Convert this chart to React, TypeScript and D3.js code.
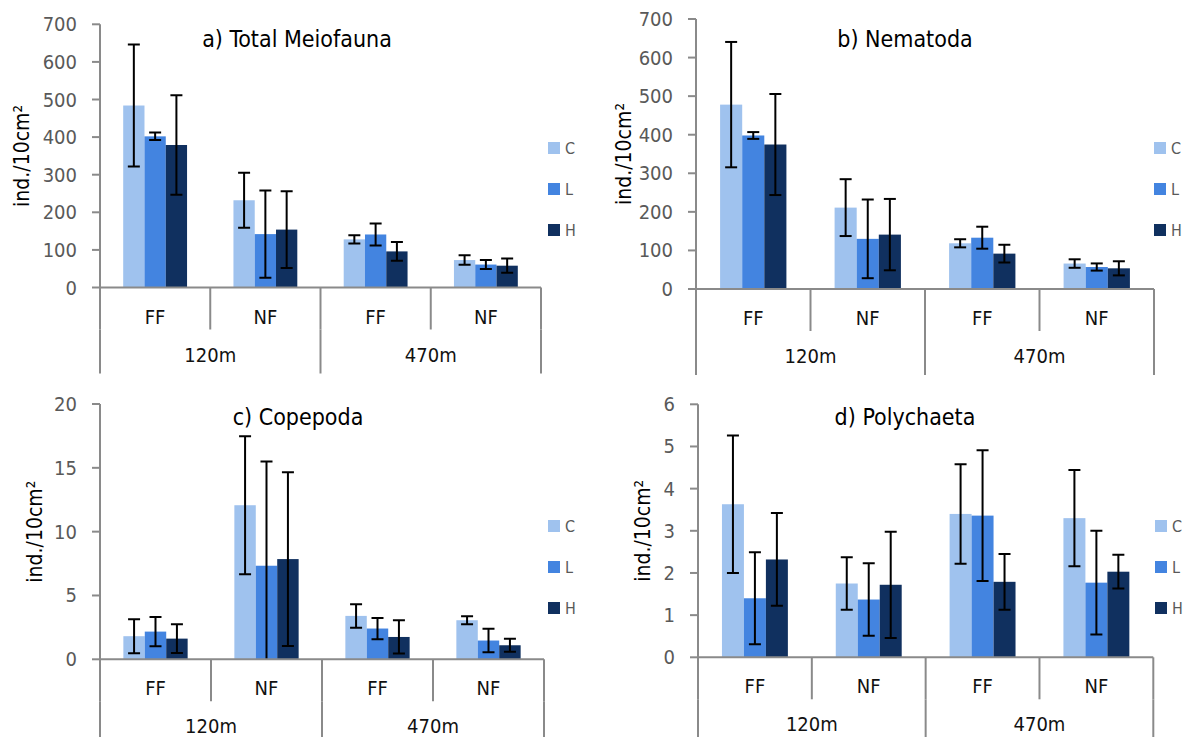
import React from "react";
import * as d3 from "d3";

const width = 1183;
const height = 737;
const font = "'DejaVu Sans Condensed', 'Liberation Sans Narrow', 'Roboto Condensed', sans-serif";

// categories
const depths = ["120m", "470m"];
const sites = ["FF", "NF"];
const groups = ["120m FF", "120m NF", "470m FF", "470m NF"];
const treatments = ["C", "L", "H"];
const colors = ["#9fc2ee", "#4384e0", "#10305f"];

// means [C, L, H] x groups, and standard deviations (error bars)
const meioMean = [[484, 232, 128, 73], [402, 142, 141, 61], [379, 154, 96, 58]];
const meioSd = [[162, 73, 11, 12.5], [10, 116, 29, 12], [132, 102, 25, 19]];

const nemaMean = [[478, 211, 118.5, 66], [398, 130, 133, 57], [374.6, 141, 91.7, 53.6]];
const nemaSd = [[162.5, 73.7, 10.5, 11], [8.8, 102, 28.5, 9.3], [131, 92.5, 23, 18.3]];

const copeMean = [[1.81, 12.07, 3.4, 3.06], [2.17, 7.33, 2.41, 1.47], [1.62, 7.85, 1.75, 1.1]];
const copeSd = [[1.33, 5.4, 0.92, 0.32], [1.14, 8.17, 0.83, 0.92], [1.12, 6.8, 1.3, 0.51]];

const polyMean = [[3.63, 1.75, 3.4, 3.3], [1.4, 1.37, 3.36, 1.77], [2.32, 1.72, 1.79, 2.03]];
const polySd = [[1.63, 0.62, 1.18, 1.14], [1.09, 0.86, 1.55, 1.23], [1.1, 1.26, 0.66, 0.4]];

const yTicksA = [0, 100, 200, 300, 400, 500, 600, 700];
const yTicksC = [0, 5, 10, 15, 20];
const yTicksD = [0, 1, 2, 3, 4, 5, 6];

function Panel({ id, title, mean, sd, ticks, x0, x1, y0, y1, titleX, titleY, yLabelX, legendX, legendY }) {
  const y = d3.scaleLinear().domain([0, ticks[ticks.length - 1]]).range([y0, y1]);
  const xg = d3.scaleBand().domain(groups).range([x0, x1]).padding(0);
  const xs = d3.scaleBand().domain(treatments).range([0, xg.bandwidth()]).paddingInner(0).paddingOuter(1.09);
  const axisColor = "#8a8a8a";
  const catH = 42;
  const bounds = d3.range(groups.length + 1).map((i) => x0 + i * xg.step());

  return (
    <g fontFamily={font}>
      <clipPath id={"clip-" + id}>
        <rect x={x0} y={y1 - 2} width={x1 - x0} height={y0 - y1 + 2} />
      </clipPath>
      {/* bars */}
      {treatments.map((t, ti) =>
        groups.map((g, gi) => (
          <rect key={t + g} x={xg(g) + xs(t)} y={y(mean[ti][gi])} width={xs.bandwidth()}
            height={y0 - y(mean[ti][gi])} fill={colors[ti]} />
        ))
      )}
      {/* error bars */}
      <g clipPath={"url(#clip-" + id + ")"} stroke="#000" strokeWidth={2}>
        {treatments.map((t, ti) =>
          groups.map((g, gi) => {
            const cx = xg(g) + xs(t) + xs.bandwidth() / 2;
            const hi = y(mean[ti][gi] + sd[ti][gi]);
            const lo = y(mean[ti][gi] - sd[ti][gi]);
            return (
              <g key={t + g}>
                <line x1={cx} x2={cx} y1={hi} y2={lo} />
                <line x1={cx - 6} x2={cx + 6} y1={hi} y2={hi} />
                <line x1={cx - 6} x2={cx + 6} y1={lo} y2={lo} />
              </g>
            );
          })
        )}
      </g>
      {/* y axis */}
      <line x1={x0} x2={x0} y1={y1} y2={y0} stroke={axisColor} strokeWidth={2} />
      {ticks.map((v) => (
        <g key={v}>
          <line x1={x0 - 8} x2={x0} y1={y(v)} y2={y(v)} stroke={axisColor} strokeWidth={2} />
          <text x={x0 - 23} y={y(v)} dy="0.35em" textAnchor="end" fontSize={20} fill="#595959">{v}</text>
        </g>
      ))}
      {/* category axis */}
      <line x1={x0} x2={x1} y1={y0} y2={y0} stroke={axisColor} strokeWidth={2} />
      {bounds.map((bx, i) => (
        <line key={"b" + i} x1={bx} x2={bx} y1={y0} y2={y0 + catH} stroke={axisColor} strokeWidth={2} />
      ))}
      {[0, 2, 4].map((i) => (
        <line key={"d" + i} x1={bounds[i]} x2={bounds[i]} y1={y0 + catH} y2={y0 + 2 * catH + 2} stroke={axisColor} strokeWidth={2} />
      ))}
      {groups.map((g, gi) => (
        <text key={g} x={xg(g) + xg.bandwidth() / 2} y={y0 + 36} textAnchor="middle" fontSize={20} fill="#111">
          {sites[gi % 2]}
        </text>
      ))}
      {depths.map((d, di) => (
        <text key={d} x={(bounds[di * 2] + bounds[di * 2 + 2]) / 2} y={y0 + 74} textAnchor="middle" fontSize={20} fill="#111">
          {d}
        </text>
      ))}
      {/* title + y label */}
      <text x={titleX} y={titleY} textAnchor="middle" fontSize={23} fill="#000">{title}</text>
      <text transform={`translate(${yLabelX},${(y0 + y1) / 2}) rotate(-90)`} textAnchor="middle" dy="0.35em" fontSize={21} fill="#000">
        ind./10cm²
      </text>
      {/* legend */}
      {treatments.map((t, ti) => (
        <g key={t} transform={`translate(${legendX},${legendY + ti * 41})`}>
          <rect x={0} y={-6} width={12} height={12} fill={colors[ti]} />
          <text x={17} y={0} dy="0.35em" fontSize={16} fill="#595959">{t}</text>
        </g>
      ))}
    </g>
  );
}

export default function App() {
  return (
    <svg width={width} height={height} style={{ position: "absolute", left: 0, top: 0, background: "#fff" }}>
      <Panel id="a" title="a) Total Meiofauna" mean={meioMean} sd={meioSd} ticks={yTicksA}
        x0={100} x1={541} y0={287.5} y1={24.3} titleX={297} titleY={47} yLabelX={22} legendX={548} legendY={148} />
      <Panel id="b" title="b) Nematoda" mean={nemaMean} sd={nemaSd} ticks={yTicksA}
        x0={696} x1={1154} y0={289} y1={19} titleX={905} titleY={47} yLabelX={624} legendX={1154} legendY={148} />
      <Panel id="c" title="c) Copepoda" mean={copeMean} sd={copeSd} ticks={yTicksC}
        x0={100} x1={544} y0={659.3} y1={404} titleX={298} titleY={425} yLabelX={34.5} legendX={548} legendY={526} />
      <Panel id="d" title="d) Polychaeta" mean={polyMean} sd={polySd} ticks={yTicksD}
        x0={698} x1={1153.3} y0={657.3} y1={404.3} titleX={905} titleY={425} yLabelX={642.5} legendX={1155} legendY={526} />
    </svg>
  );
}
